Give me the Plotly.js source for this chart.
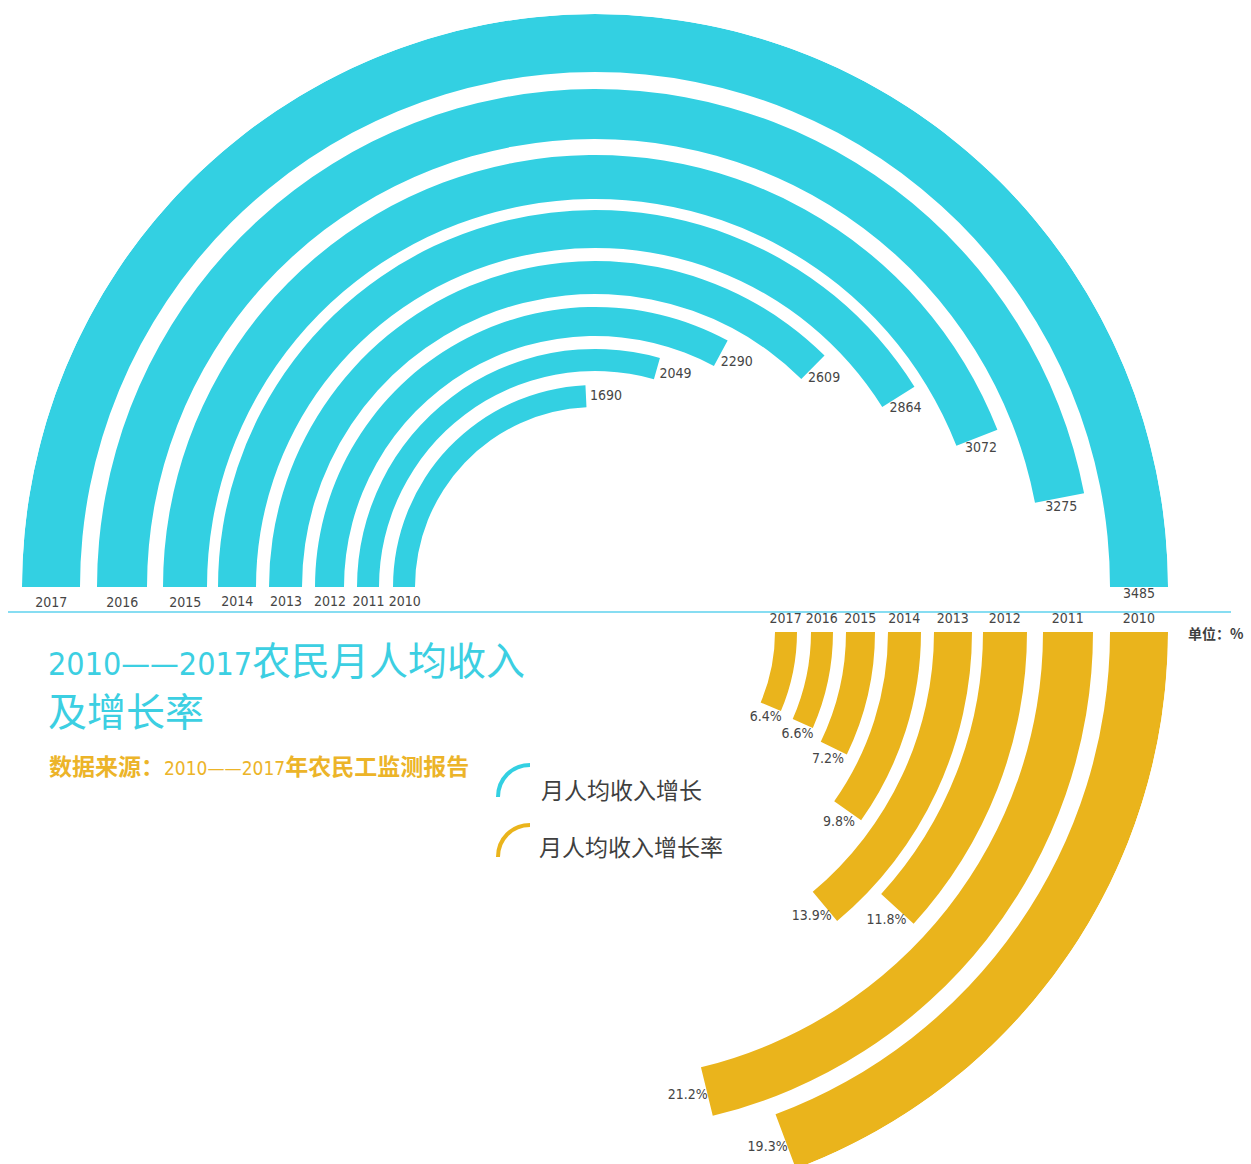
<!DOCTYPE html>
<html><head><meta charset="utf-8">
<script src="https://cdn.plot.ly/plotly-3.0.1.min.js"></script>
<style>
html,body{margin:0;padding:0;background:#fff;overflow:hidden;}
#wrap{width:1251px;height:1164px;overflow:hidden;position:relative;}
#chart{width:1251px;height:1210px;}
</style></head><body>
<div id="wrap"><div id="chart"></div></div>
<script>
// ---------- data ----------
const years = ['2010', '2011', '2012', '2013', '2014', '2015', '2016', '2017'];
const income = [1690, 2049, 2290, 2609, 2864, 3072, 3275, 3485];          // 月人均收入 (元)
const growthRate = [19.3, 21.2, 11.8, 13.9, 9.8, 7.2, 6.6, 6.4];          // 增长率 (%)
const seriesNames = ['月人均收入增长', '月人均收入增长率'];
const titleMain = '农民月人均收入';
const titleLine2 = '及增长率';
const titleSpan = '2010——2017';
const sourceText = '数据来源：';
const sourceTail = '年农民工监测报告';
const unitText = '单位：%';

// ---------- font detection (condensed digits if available) ----------
function fontAvailable(name) {
  const c = document.createElement('canvas').getContext('2d');
  const sample = '2010——2017 0123456789% abcdefg';
  return ['monospace', 'serif'].some(fb => {
    c.font = '40px ' + fb; const w0 = c.measureText(sample).width;
    c.font = '40px "' + name + '", ' + fb; const w1 = c.measureText(sample).width;
    return Math.abs(w0 - w1) > 0.5;
  });
}
const condensed = ['Liberation Sans Narrow', 'DejaVu Sans Condensed', 'Roboto Condensed',
                   'Open Sans Condensed', 'Arial Narrow', 'Noto Sans Display Condensed'].find(fontAvailable);
const NUM_FONT = condensed ? "'" + condensed + "', 'Liberation Sans', sans-serif" : "'Liberation Sans', Arial, sans-serif";
const NUM_SIZE = condensed ? 14 : 12.5;
const CJK_FONT = "'Noto Sans CJK SC', 'Noto Sans', sans-serif";

// ---------- geometry / style (pixels) ----------
const W = 1251, H = 1210;
const R = 573;
const ringOuter = [573, 498, 432, 377, 326, 280, 238, 202];
const ringInner = [515, 448, 388, 339, 293, 251, 216, 180];
const CYAN = '#33d0e2', ORANGE = '#eab41c', TXT = '#454545';
const PAD = 10;                       // extra sector degrees so labels beyond bar ends are not clipped
const padPx = R * Math.sin(PAD * Math.PI / 180);

const fx = x => x / W;
const fy = y => 1 - y / H;
const deg = rad => rad * 180 / Math.PI;
const mid = i => (ringOuter[i] + ringInner[i]) / 2;
const thick = i => ringOuter[i] - ringInner[i];
const endOffset = (a, r) => deg((7 + 13 * Math.abs(Math.sin(a * Math.PI / 180))) / r);

// top half: income, 2017 outermost; sweep proportional to value (max = half turn)
const maxIncome = Math.max(...income);
const topRing = years.map((_, j) => years.length - 1 - j);
const topAng = income.map(v => v / maxIncome * 180);
// bottom: growth rate as share of a full turn, 2010 outermost
const botRing = years.map((_, j) => j);
const botAng = growthRate.map(v => v / 100 * 360);

const numFont = {family: NUM_FONT, size: NUM_SIZE, color: TXT};
const textTrace = (subplot, r, theta, text) => ({
  type: 'scatterpolar', subplot: subplot, mode: 'text', r: r, theta: theta, text: text,
  textposition: 'middle center', textfont: numFont, cliponaxis: false,
  hoverinfo: 'skip', showlegend: false
});

const traces = [
  {
    type: 'barpolar', subplot: 'polar', name: seriesNames[0],
    r: topRing.map(thick), base: topRing.map(i => ringInner[i]),
    theta: topAng.map(a => a / 2), width: topAng,
    marker: {color: CYAN, line: {width: 0}}, hoverinfo: 'skip', showlegend: false
  },
  textTrace('polar', topRing.map(mid),
            topAng.map((a, j) => a + endOffset(a, mid(topRing[j]))), income.map(String)),
  textTrace('polar', topRing.map(mid), topRing.map(i => -deg(16 / mid(i))), years),
  {
    type: 'barpolar', subplot: 'polar2', name: seriesNames[1],
    r: botRing.map(thick), base: botRing.map(i => ringInner[i]),
    theta: botAng.map(a => a / 2), width: botAng,
    marker: {color: ORANGE, line: {width: 0}}, hoverinfo: 'skip', showlegend: false
  },
  textTrace('polar2', botRing.map(mid),
            botAng.map((a, j) => a + endOffset(a, mid(botRing[j]))), growthRate.map(v => v.toFixed(1) + '%')),
  textTrace('polar2', botRing.map(mid), botRing.map(i => -deg(12 / mid(i))), years)
];

const hiddenAxes = (rot) => ({
  radialaxis: {visible: false, range: [0, R], autorange: false},
  angularaxis: {visible: false, rotation: rot, direction: 'clockwise'}
});

const arcIcon = (x, y, color) => ({
  type: 'path', xref: 'paper', yref: 'paper',
  path: 'M ' + fx(x) + ' ' + fy(y + 32) +
        ' C ' + fx(x) + ' ' + fy(y + 14) + ' ' + fx(x + 14) + ' ' + fy(y) + ' ' + fx(x + 32) + ' ' + fy(y),
  line: {color: color, width: 4}
});

const digitSpan = (t, size) => '<span style="font-family:' + NUM_FONT + ';font-size:' + size + 'px">' + t + '</span>';

const layout = {
  width: W, height: H,
  margin: {l: 0, r: 0, t: 0, b: 0},
  paper_bgcolor: '#ffffff', plot_bgcolor: '#ffffff',
  showlegend: false,
  title: {
    text: digitSpan(titleSpan, condensed ? 32 : 30) + titleMain + '<br>' + titleLine2,
    x: fx(48), xanchor: 'left', xref: 'paper',
    y: fy(675), yanchor: 'top', yref: 'paper',
    font: {family: CJK_FONT, size: 39, color: '#3ccfe2'}
  },
  polar: Object.assign({
    domain: {x: [fx(22), fx(1168)], y: [fy(14 + R + padPx), fy(14)]},
    sector: [-PAD, 180 + PAD], hole: 0, bgcolor: 'rgba(0,0,0,0)'
  }, hiddenAxes(180)),
  polar2: Object.assign({
    domain: {x: [fx(595), fx(1168)], y: [fy(632 + R), fy(632 - padPx)]},
    sector: [270, 360 + PAD], hole: 0, bgcolor: 'rgba(0,0,0,0)'
  }, hiddenAxes(0)),
  shapes: [
    {type: 'line', xref: 'paper', yref: 'paper', x0: fx(8), x1: fx(1231), y0: fy(612), y1: fy(612),
     line: {color: '#5fd2ee', width: 1.5}},
    arcIcon(498, 765, CYAN),
    arcIcon(498, 825, ORANGE)
  ],
  annotations: [
    {text: '<b>' + sourceText + '</b>' + digitSpan(titleSpan, condensed ? 19 : 18) + '<b>' + sourceTail + '</b>',
     xref: 'paper', yref: 'paper', x: fx(47), y: fy(765), xanchor: 'left', yanchor: 'middle',
     showarrow: false, font: {family: CJK_FONT, size: 23, color: '#ecb429'}},
    {text: seriesNames[0], xref: 'paper', yref: 'paper', x: fx(539), y: fy(789), xanchor: 'left', yanchor: 'middle',
     showarrow: false, font: {family: CJK_FONT, size: 23, color: '#3f3f3f'}},
    {text: seriesNames[1], xref: 'paper', yref: 'paper', x: fx(537), y: fy(846), xanchor: 'left', yanchor: 'middle',
     showarrow: false, font: {family: CJK_FONT, size: 23, color: '#3f3f3f'}},
    {text: '<b>' + unitText + '</b>', xref: 'paper', yref: 'paper', x: fx(1186), y: fy(633), xanchor: 'left', yanchor: 'middle',
     showarrow: false, font: {family: CJK_FONT, size: 14, color: '#3f3f3f'}}
  ]
};

Plotly.newPlot('chart', traces, layout, {displayModeBar: false, staticPlot: true});
</script>
</body></html>
